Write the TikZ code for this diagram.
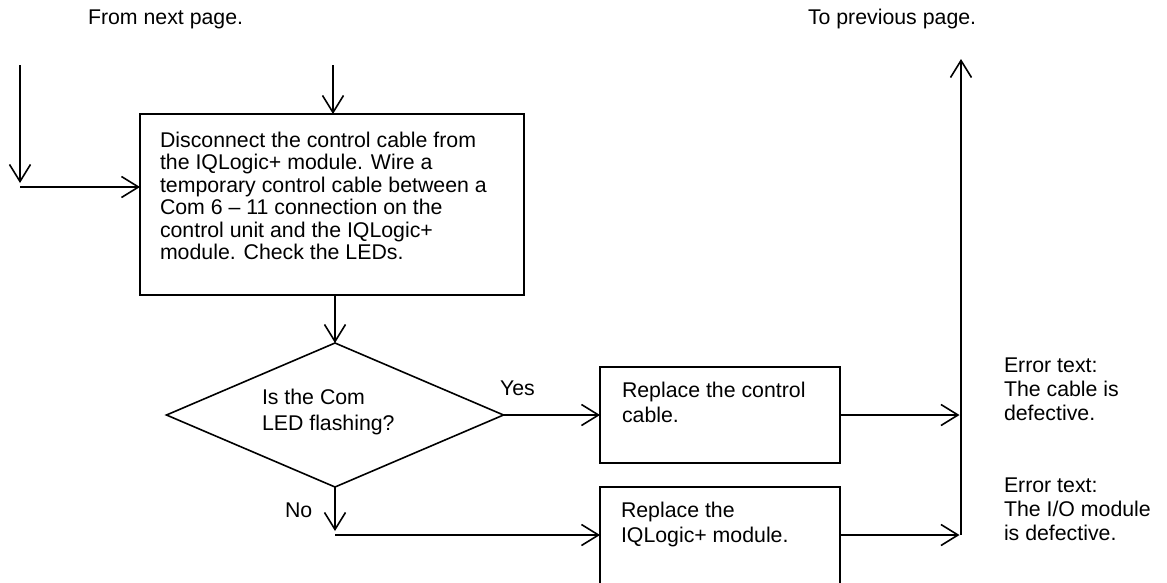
\documentclass[tikz,border=0pt]{standalone}
\usepackage{fontspec}
\setmainfont{Liberation Sans}
\usetikzlibrary{arrows.meta,shapes.geometric}
\begin{document}
\begin{tikzpicture}[x=1pt,y=-1pt,
  every node/.style={inner sep=0pt, outer sep=0pt},
  txt/.style={anchor=base west, align=left, font=\fontsize{21.3}{24}\selectfont},
  boxtxt/.style={anchor=base west, align=left, font=\fontsize{21.3}{22.5}\selectfont},
  twoline/.style={anchor=base west, align=left, font=\fontsize{21.3}{25}\selectfont},
  dectxt/.style={anchor=base west, align=left, font=\fontsize{21.3}{26}\selectfont},
  procbox/.style={draw, line width=1.8pt, rectangle},
  decbox/.style={draw, line width=1.6pt, shape=diamond},
  arr/.style={line width=1.6pt, -{Straight Barb[length=17pt,width=21pt]}}]
\clip (0,0) rectangle (1167,582);
\fill[white] (0,0) rectangle (1167,582);

% headings
\node[txt] (from) at (88,24) {From next page.};
\node[txt] (to) at (808,24) {To previous page.};

% boxes (multi-line texts are placed by the baseline of their last line)
\node[procbox, minimum width=384pt, minimum height=181pt] (b1) at (332,204.5) {};
\node[boxtxt] (b1t) at (160,259.5) {Disconnect the control cable from\\the IQLogic+ module. Wire a\\temporary control cable between a\\Com 6 – 11 connection on the\\control unit and the IQLogic+\\module. Check the LEDs.};

\node[decbox, minimum width=337pt, minimum height=144pt] (d) at (335,415) {};
\node[dectxt] (dt) at (262,430) {Is the Com\\LED flashing?};

\node[procbox, minimum width=240pt, minimum height=96pt] (b2) at (720,415) {};
\node[twoline] (b2t) at (622,422) {Replace the control\\cable.};

\node[procbox, minimum width=240pt, minimum height=153pt] (b3) at (720,563.5) {};
\node[twoline] (b3t) at (621,542) {Replace the\\IQLogic+ module.};

% labels
\node[txt] (yes) at (500,395) {Yes};
\node[txt] (no) at (285,517) {No};
\node[txt] (e1) at (1004,420) {Error text:\\The cable is\\defective.};
\node[txt] (e2) at (1004,540) {Error text:\\The I/O module\\is defective.};

% coordinates
\coordinate (l0) at (20,65);
\coordinate (l1) at (20,183);
\coordinate (h0) at (20,187);
\coordinate (t0) at (333,65);
\coordinate (n1) at (335,531);
\coordinate (n2) at (335,535);
\coordinate (v0) at (961,535);
\coordinate (v1) at (961,59);

% connectors
\draw[arr] (l0) -- (l1);
\draw[arr] (h0) -- (h0 -| b1.west);
\draw[arr] (t0) -- (t0 |- b1.north);
\draw[arr] (d.north |- b1.south) -- (d.north);
\draw[arr] (d.east) -- (d.east -| b2.west);
\draw[arr] (d.south) -- (n1);
\draw[arr] (n2) -- (n2 -| b3.west);
\draw[arr, shorten >=1.5pt] (b2.east) -- (b2.east -| v0);
\draw[arr, shorten >=1.5pt] (n2 -| b3.east) -- (v0);
\draw[arr] (v0) -- (v1);
\end{tikzpicture}
\end{document}
